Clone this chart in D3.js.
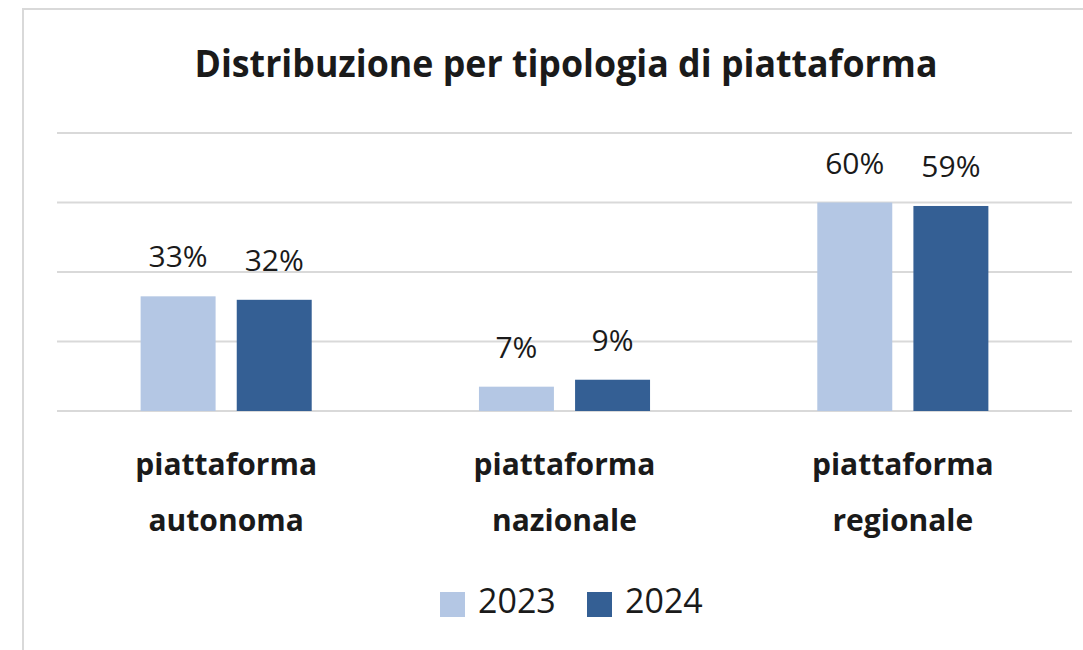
<!DOCTYPE html>
<html lang="it">
<head>
    <meta charset="UTF-8">
    <title>Distribuzione per tipologia di piattaforma</title>
    <script src="https://d3js.org/d3.v7.min.js"></script>
    <style>
        body {
            margin: 0;
            padding: 0;
            background-color: #ffffff;
            overflow: hidden;
        }
        text {
            font-family: "Open Sans", "Noto Sans", sans-serif;
            fill: #1a1a1a;
        }
    </style>
</head>
<body>
    <div id="chart"></div>

    <script>
        const categories = [["piattaforma", "autonoma"], ["piattaforma", "nazionale"], ["piattaforma", "regionale"]];
        const years = ["2023", "2024"];
        const values2023 = [0.33, 0.07, 0.60];
        const values2024 = [0.32, 0.09, 0.59];
        const yTicks = [0, 0.2, 0.4, 0.6, 0.8];

        const colors = { "2023": "#b4c7e4", "2024": "#345f94" };

        const width = 1083;
        const height = 650;
        const plotLeft = 57, plotRight = 1072, plotTop = 133, plotBottom = 411;

        const svg = d3.select("#chart").append("svg")
            .attr("width", width)
            .attr("height", height);

        svg.append("rect").attr("width", width).attr("height", height).attr("fill", "#ffffff");

        // chart area border (top and left only visible)
        svg.append("path")
            .attr("d", `M23,${height} L23,9 L${width},9`)
            .attr("fill", "none")
            .attr("stroke", "#d9d9d9")
            .attr("stroke-width", 2);

        svg.append("text")
            .attr("x", 566)
            .attr("y", 77)
            .attr("text-anchor", "middle")
            .attr("font-size", 37)
            .attr("font-weight", 700)
            .attr("textLength", 743)
            .attr("lengthAdjust", "spacingAndGlyphs")
            .text("Distribuzione per tipologia di piattaforma");

        const keys = categories.map(c => c.join(" "));
        const data = keys.map((k, i) => ({ key: k, lines: categories[i], "2023": values2023[i], "2024": values2024[i] }));

        const y = d3.scaleLinear().domain([0, 0.8]).range([plotBottom, plotTop]);
        const x0 = d3.scaleBand().domain(keys).range([plotLeft, plotRight]);
        const x1 = d3.scaleBand().domain(years).range([0, x0.bandwidth()])
            .paddingInner(0.22).paddingOuter(0.87);

        // gridlines
        svg.append("g")
            .selectAll("line")
            .data(yTicks)
            .join("line")
            .attr("x1", plotLeft)
            .attr("x2", plotRight)
            .attr("y1", d => y(d))
            .attr("y2", d => y(d))
            .attr("stroke", "#d9d9d9")
            .attr("stroke-width", 2);

        const groups = svg.append("g")
            .selectAll("g")
            .data(data)
            .join("g")
            .attr("transform", d => `translate(${x0(d.key)},0)`);

        const bars = groups.selectAll("g.bar")
            .data(d => years.map(yr => ({ year: yr, value: d[yr] })))
            .join("g")
            .attr("class", "bar");

        bars.append("rect")
            .attr("x", d => x1(d.year))
            .attr("y", d => y(d.value))
            .attr("width", x1.bandwidth())
            .attr("height", d => y(0) - y(d.value))
            .attr("fill", d => colors[d.year]);

        bars.append("text")
            .attr("x", d => x1(d.year) + x1.bandwidth() / 2)
            .attr("y", d => y(d.value) - 29)
            .attr("text-anchor", "middle")
            .attr("font-size", 30)
            .text(d => Math.round(d.value * 100) + "%");

        // category labels
        groups.append("text")
            .attr("x", x0.bandwidth() / 2)
            .attr("y", 475)
            .attr("text-anchor", "middle")
            .attr("font-size", 30)
            .attr("font-weight", 700)
            .selectAll("tspan")
            .data(d => d.lines)
            .join("tspan")
            .attr("x", x0.bandwidth() / 2)
            .attr("dy", (d, i) => i === 0 ? 0 : 56)
            .text(d => d);

        // legend
        const legend = svg.append("g")
            .selectAll("g")
            .data(years)
            .join("g")
            .attr("transform", (d, i) => `translate(${440 + i * 147},592)`);

        legend.append("rect")
            .attr("width", 25)
            .attr("height", 25)
            .attr("fill", d => colors[d]);

        legend.append("text")
            .attr("x", 38)
            .attr("y", 21)
            .attr("font-size", 34)
            .text(d => d);
    </script>
</body>
</html>
